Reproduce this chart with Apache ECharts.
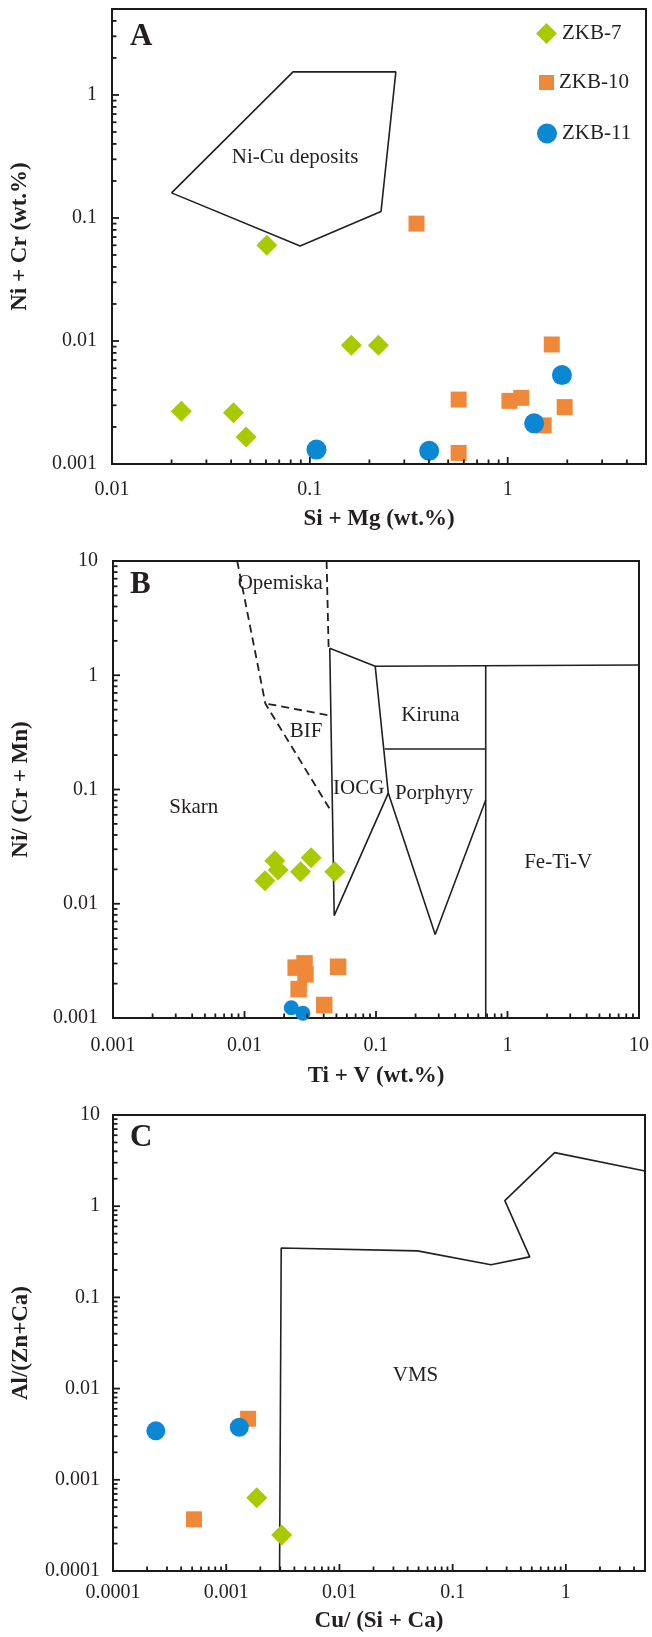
<!DOCTYPE html>
<html>
<head>
<meta charset="utf-8">
<title>Ni-Cr / Ti-V / Cu-Al discrimination plots</title>
<script src="https://cdn.jsdelivr.net/npm/echarts@6.0.0/dist/echarts.min.js"></script>
<style>
  html, body { margin: 0; padding: 0; background: #fff; }
  #myChart { width: 652px; height: 1637px; }
</style>
</head>
<body>
<div id="myChart"></div>
<script>
// ---- panel A : Si + Mg vs Ni + Cr (wt.%) ----
var aZkb7 = [[0.0224, 0.00268], [0.0411, 0.00261], [0.0476, 0.00166], [0.0606, 0.0600], [0.162, 0.00925], [0.222, 0.00925]];
var aZkb10 = [[0.346, 0.0900], [0.565, 0.00334], [0.565, 0.00123], [1.02, 0.00326], [1.17, 0.00345], [1.52, 0.00206], [1.67, 0.00937], [1.94, 0.0029]];
var aZkb11 = [[0.108, 0.00131], [0.401, 0.00128], [1.36, 0.00214], [1.88, 0.00528]];
var aNiCu = [[0.02, 0.16], [0.0822, 1.54], [0.272, 1.54], [0.229, 0.113], [0.0893, 0.0593], [0.02, 0.16]];
var aLabels = [{ name: 'Ni-Cu deposits', value: [0.0842, 0.309] }];

// ---- panel B : Ti + V vs Ni/(Cr + Mn) ----
var bZkb7 = [[0.0143, 0.0159], [0.0170, 0.0238], [0.0180, 0.0197], [0.0267, 0.0191], [0.0321, 0.0253], [0.0486, 0.0191]];
var bZkb10 = [[0.0245, 0.00276], [0.0258, 0.00179], [0.0286, 0.00301], [0.0291, 0.00241], [0.0404, 0.0013], [0.0515, 0.00281]];
var bZkb11 = [[0.0227, 0.00123], [0.0278, 0.0011]];
var bOpemiskaLeft = [[0.0088, 10], [0.0144, 0.566], [0.046, 0.0634]];
var bBifTop = [[0.0152, 0.56], [0.0448, 0.444]];
var bOpemiskaRight = [[0.0421, 10], [0.0436, 1.77]];
var bIocg = [[0.0445, 1.72], [0.0986, 1.2], [0.124, 0.093], [0.0481, 0.00788], [0.0445, 1.72]];
var bTopLine = [[0.0986, 1.2], [10, 1.23]];
var bKirunaBase = [[0.1164, 0.226], [0.683, 0.226]];
var bPorphyry = [[0.124, 0.093], [0.282, 0.00538], [0.683, 0.0809]];
var bFeTiV = [[0.683, 1.21], [0.683, 0.001]];
var bLabels = [
  { name: 'Opemiska', value: [0.0187, 6.3] },
  { name: 'BIF', value: [0.0294, 0.325] },
  { name: 'Kiruna', value: [0.259, 0.444] },
  { name: 'IOCG', value: [0.0738, 0.102] },
  { name: 'Porphyry', value: [0.276, 0.093] },
  { name: 'Skarn', value: [0.00411, 0.0689] },
  { name: 'Fe-Ti-V', value: [2.43, 0.0228] }
];

// ---- panel C : Cu/(Si + Ca) vs Al/(Zn + Ca) ----
var cZkb7 = [[0.00186, 0.000637], [0.00309, 0.000248]];
var cZkb10 = [[0.000519, 0.000369], [0.00156, 0.00467]];
var cZkb11 = [[0.000239, 0.00344], [0.001305, 0.00377]];
var cVms = [[0.00296, 0.0001], [0.00306, 0.3475], [0.049, 0.3235], [0.218, 0.228], [0.48, 0.278], [0.289, 1.153], [0.796, 3.87], [5, 2.43]];
var cLabels = [{ name: 'VMS', value: [0.047, 0.0141] }];

var seriesNames = ['ZKB-7', 'ZKB-10', 'ZKB-11'];
var colors = ['#a8ca00', '#f0883a', '#0a88d4'];

var serif = 'Liberation Serif';
var ink = '#231f20';

// panel frames: [xmin, xmax, ymin, ymax]
var ranges = [
  [0.01, 5, 0.001, 5],
  [0.001, 10, 0.001, 10],
  [0.0001, 5, 0.0001, 10]
];

// inward log ticks (1..9 x 10^k) for the bottom and left axes
function logTicks(min, max) {
  var out = [];
  for (var k = Math.floor(Math.log10(min)); k <= Math.ceil(Math.log10(max)); k++) {
    for (var m = 1; m <= 9; m++) {
      var v = +(m * Math.pow(10, k)).toPrecision(3);
      if (v >= min * 0.999 && v <= max * 1.001) out.push([v, m === 1]);
    }
  }
  return out;
}
function tickData(r) {
  var d = [];
  logTicks(r[0], r[1]).forEach(function (t) { d.push([t[0], r[2], 0, t[1] ? 7 : 4.5]); });
  logTicks(r[2], r[3]).forEach(function (t) { d.push([r[0], t[0], 1, t[1] ? 7 : 4.5]); });
  return d;
}
function renderTick(params, api) {
  var p = api.coord([api.value(0), api.value(1)]);
  var dir = api.value(2), len = api.value(3);
  return {
    type: 'line',
    shape: { x1: p[0], y1: p[1], x2: dir ? p[0] + len : p[0], y2: dir ? p[1] : p[1] - len },
    style: { stroke: '#1a1a1a', lineWidth: 1.8 }
  };
}

function fmt(v) { return String(+(+v).toPrecision(3)); }

function makeAxis(i, r, name, nameGap, margin, isY) {
  return {
    type: 'log', logBase: 10, gridIndex: i,
    min: isY ? r[2] : r[0], max: isY ? r[3] : r[1],
    name: name, nameLocation: 'middle', nameGap: nameGap,
    nameTextStyle: { fontFamily: serif, fontWeight: 'bold', fontSize: 23, color: ink },
    axisLine: { show: true, lineStyle: { color: '#1a1a1a', width: 2 } },
    axisTick: { show: false },
    splitLine: { show: false },
    minorTick: { show: false },
    axisLabel: {
      fontFamily: serif, fontSize: 20, color: ink, margin: margin,
      showMaxLabel: isY ? (r[3] === 10) : (r[1] === 10),
      formatter: fmt
    }
  };
}

var grids = [
  { left: 112, top: 9, width: 534, height: 455 },
  { left: 113, top: 561, width: 532, height: 457 },
  { left: 113, top: 1115, width: 532, height: 456 }
];
grids.forEach(function (g) {
  g.show = true; g.borderColor = '#1a1a1a'; g.borderWidth = 2; g.backgroundColor = 'transparent';
});

var xAxes = [
  makeAxis(0, ranges[0], 'Si + Mg (wt.%)', 44, 16, false),
  makeAxis(1, ranges[1], 'Ti + V (wt.%)', 47, 18, false),
  makeAxis(2, ranges[2], 'Cu/ (Si + Ca)', 39, 12, false)
];
var yAxes = [
  makeAxis(0, ranges[0], 'Ni + Cr (wt.%)', 80, 15, true),
  makeAxis(1, ranges[1], 'Ni/ (Cr + Mn)', 80, 15, true),
  makeAxis(2, ranges[2], 'Al/(Zn+Ca)', 80, 13, true)
];

var series = [];
function boundary(i, pts, dashed) {
  series.push({
    type: 'line', xAxisIndex: i, yAxisIndex: i, data: pts,
    showSymbol: false, symbol: 'none', silent: true, z: 3,
    lineStyle: { color: ink, width: dashed ? 1.8 : 1.6, type: dashed ? [8, 5] : 'solid' }
  });
}
function labels(i, items) {
  series.push({
    type: 'scatter', xAxisIndex: i, yAxisIndex: i, data: items,
    symbolSize: 1, itemStyle: { color: 'rgba(0,0,0,0)' }, silent: true, z: 4,
    label: {
      show: true, position: 'inside', formatter: '{b}', opacity: 1,
      fontFamily: serif, fontSize: 21, color: ink, textBorderWidth: 0
    }
  });
}
function points(i, k, pts, size) {
  series.push({
    name: seriesNames[k], type: 'scatter', xAxisIndex: i, yAxisIndex: i, data: pts,
    symbol: ['diamond', 'rect', 'circle'][k], symbolSize: size, z: 5 + k,
    itemStyle: { color: colors[k], opacity: 1 }
  });
}

boundary(0, aNiCu, false);
labels(0, aLabels);

boundary(1, bOpemiskaLeft, true);
boundary(1, bBifTop, true);
boundary(1, bOpemiskaRight, true);
boundary(1, bIocg, false);
boundary(1, bTopLine, false);
boundary(1, bKirunaBase, false);
boundary(1, bPorphyry, false);
boundary(1, bFeTiV, false);
labels(1, bLabels);

boundary(2, cVms, false);
labels(2, cLabels);

points(0, 0, aZkb7, 21); points(0, 1, aZkb10, 16); points(0, 2, aZkb11, 20);
points(1, 0, bZkb7, 21); points(1, 1, bZkb10, 16.5); points(1, 2, bZkb11, 15);
points(2, 0, cZkb7, 21); points(2, 1, cZkb10, 16); points(2, 2, cZkb11, 19);

ranges.forEach(function (r, i) {
  series.push({
    type: 'custom', xAxisIndex: i, yAxisIndex: i, data: tickData(r),
    renderItem: renderTick, silent: true, clip: false, z: 10
  });
});

var legendText = { fontFamily: serif, fontSize: 21, color: ink };
var legends = [
  { data: [{ name: 'ZKB-7', icon: 'diamond' }], left: 536, top: 23, itemWidth: 21, itemHeight: 21 },
  { data: [{ name: 'ZKB-10', icon: 'rect' }], left: 539, top: 72, itemWidth: 15, itemHeight: 15 },
  { data: [{ name: 'ZKB-11', icon: 'circle' }], left: 537, top: 123, itemWidth: 20, itemHeight: 20 }
];
legends.forEach(function (l) {
  l.orient = 'vertical'; l.padding = 0; l.selectedMode = false; l.textStyle = legendText; l.itemGap = 4;
});

var letters = [['A', 141, 38], ['B', 141, 586], ['C', 141, 1139]].map(function (t) {
  return {
    type: 'text', left: t[1] - 11, top: t[2] - 17, silent: true,
    style: { text: t[0], font: 'bold 31px "Liberation Serif"', fill: ink }
  };
});

var option = {
  animation: false,
  backgroundColor: '#fff',
  grid: grids,
  xAxis: xAxes,
  yAxis: yAxes,
  legend: legends,
  graphic: letters,
  series: series
};

var myChart = echarts.init(document.getElementById('myChart'));
myChart.setOption(option);
</script>
</body>
</html>
